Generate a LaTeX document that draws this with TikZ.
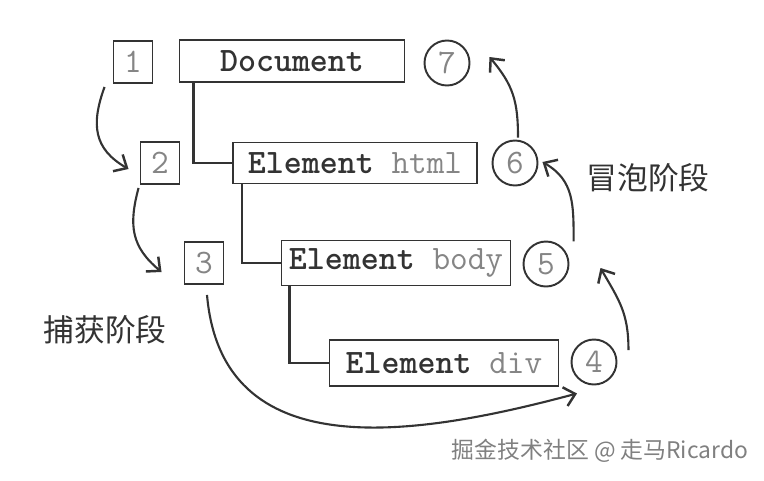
\documentclass[tikz,border=0pt]{standalone}
\usepackage{fontspec}
\newfontfamily\cjk{Noto Sans CJK SC}
\usepackage{xcolor}
\usetikzlibrary{arrows.meta}
\definecolor{inkgray}{HTML}{333333}
\definecolor{numgray}{HTML}{858585}

\begin{document}
\begin{tikzpicture}[
  font=\fontsize{19.5}{22}\selectfont\ttfamily,
  numbox/.style={
    draw=inkgray,
    line width=1.1pt,
    text=numgray,
    minimum width=0.78cm,
    minimum height=0.84cm,
    inner sep=0pt
  },
  nodebox/.style={
    draw=inkgray,
    line width=1.1pt,
    text=inkgray,
    minimum height=0.84cm,
    inner sep=0pt
  },
  numcircle/.style={
    circle,
    draw=inkgray,
    line width=1.1pt,
    text=numgray,
    minimum size=0.9cm,
    inner sep=0pt
  },
  tree/.style={
    draw=inkgray,
    line width=1.3pt
  },
  arrow/.style={
    draw=inkgray,
    line width=1.2pt,
    -{Straight Barb[length=6pt,width=11pt,line width=1.4pt]}
  },
  phase/.style={
    font=\cjk\fontsize{17.5}{20}\selectfont,
    text=inkgray
  }
]
\useasboundingbox (0,0) rectangle (15.28,9.6);

% Capture side boxes
\node[numbox] (n1) at (2.66,8.36) {1};
\node[numbox] (n2) at (3.20,6.34) {2};
\node[numbox] (n3) at (4.08,4.34) {3};

% Tree of elements
\node[nodebox, minimum width=4.5cm] (doc) at (5.84,8.38)
{\textbf{Document}};
\node[nodebox, minimum width=4.88cm, minimum height=0.82cm] (html) at (7.10,6.34)
{\textbf{Element} {\color{numgray}html}};
\node[nodebox, minimum width=4.58cm, minimum height=0.9cm] (body) at (7.92,4.34)
{\textbf{Element} {\color{numgray}body}};
\node[nodebox, minimum width=4.58cm, minimum height=0.92cm] (div) at (8.88,2.34)
{\textbf{Element} {\color{numgray}div}};

% Bubble side circles
\node[numcircle] (c4) at (11.88,2.36) {4};
\node[numcircle] (c5) at (10.92,4.32) {5};
\node[numcircle] (c6) at (10.30,6.34) {6};
\node[numcircle] (c7) at (8.94,8.34) {7};

% Tree links
\draw[tree] ([xshift=0.3cm]doc.south west) |- (html.west);
\draw[tree] ([xshift=0.2cm]html.south west) |- (body.west);
\draw[tree] ([xshift=0.18cm]body.south west) |- (div.west);

% Capture arrows
\draw[arrow] ([shift={(-0.16,-0.06)}]n1.south west) to[out=250,in=150,looseness=1.2]
  ([shift={(-0.22,-0.12)}]n2.west);
\draw[arrow] ([shift={(-0.02,-0.06)}]n2.south west) to[out=255,in=140,looseness=1.15]
  ([shift={(-0.44,-0.18)}]n3.west);
\draw[arrow] ([shift={(0.06,-0.2)}]n3.south) to[out=-85,in=195,looseness=1.15]
  ([shift={(-0.34,-0.16)}]c4.south);

% Bubble arrows
\draw[arrow] ([shift={(0.22,0.24)}]c4.east) to[out=90,in=-60,looseness=1.1]
  ([shift={(0.62,-0.08)}]c5.east);
\draw[arrow] ([shift={(0.22,0.12)}]c5.north east) to[out=90,in=-30,looseness=1.1]
  ([shift={(0.08,0.02)}]c6.east);
\draw[arrow] ([shift={(0.06,0.04)}]c6.north) to[out=90,in=-50,looseness=1.1]
  ([shift={(0.38,0.12)}]c7.east);

% Phase labels
\node[phase] (capture) at (2.10,3.00) {捕获阶段};
\node[phase] (bubble) at (12.96,6.04) {冒泡阶段};

% Credit
\node[font=\cjk\fontsize{13}{15}\selectfont, text=gray] (credit) at (12.0,0.58)
{掘金技术社区 @ 走马Ricardo};

\end{tikzpicture}
\end{document}
